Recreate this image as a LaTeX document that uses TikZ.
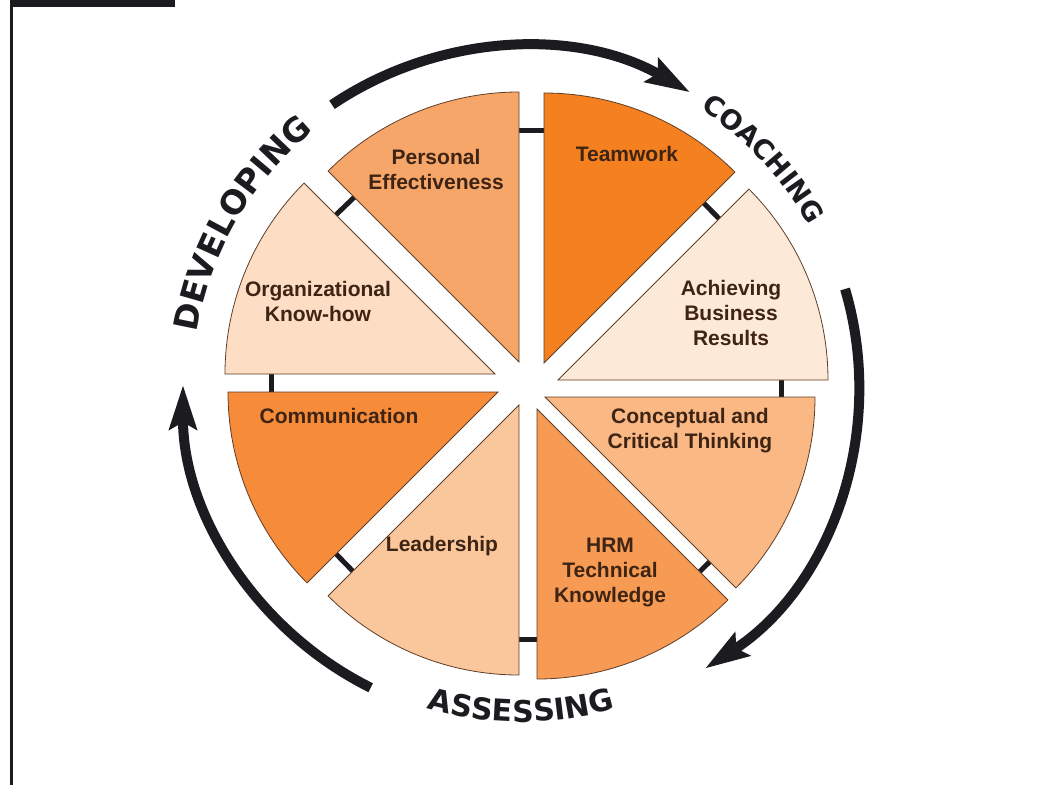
\documentclass[tikz,border=0pt]{standalone}
\usepackage{fontspec}
\usepackage{tikz}
\usetikzlibrary{arrows.meta,calc,decorations.text}

\newfontfamily\labelfont{Liberation Sans}
\newfontfamily\headfont{DejaVu Sans}
\newcommand\headlarge{\headfont\bfseries\fontsize{33}{36}\selectfont}
\newcommand\headmedium{\headfont\bfseries\fontsize{30}{33}\selectfont}
\newcommand\headsmall{\headfont\bfseries\fontsize{27}{30}\selectfont}

\definecolor{c_pe}{RGB}{247,166,106}
\definecolor{c_tw}{RGB}{244,128,32}
\definecolor{c_ab}{RGB}{253,233,216}
\definecolor{c_cc}{RGB}{249,184,132}
\definecolor{c_hr}{RGB}{247,154,83}
\definecolor{c_ld}{RGB}{250,199,157}
\definecolor{c_cm}{RGB}{246,139,58}
\definecolor{c_ok}{RGB}{253,221,195}
\definecolor{c_edge}{RGB}{95,62,40}
\definecolor{c_text}{RGB}{62,36,20}
\definecolor{c_dark}{RGB}{28,28,32}

\begin{document}
\begin{tikzpicture}[x=1pt,y=1pt,
    sector/.style={draw=c_edge, line width=0.8pt},
    lbl/.style={font=\labelfont\bfseries\fontsize{21}{25}\selectfont, text=c_text, align=center},
    linkbar/.style={line width=5pt, c_dark},
    ringarrow/.style={line width=10pt, c_dark, -{Stealth[length=44pt,width=27pt,inset=7pt]}},
    headtext/.style 2 args={decorate, decoration={text along path, text align=center, text color=c_dark, text={|#1|#2}}}]

  \useasboundingbox (-528,-400) rectangle (512,385);

  % page frame
  \fill[c_dark] (-518,385) rectangle (-353,378);
  \draw[c_dark, line width=2.5pt] (-516.5,385) -- (-516.5,-400);

  \coordinate (ring)    at (-7,0);
  \coordinate (pe_apex) at (-9,23);
  \coordinate (tw_apex) at (16,22);
  \coordinate (ab_apex) at (30,5);
  \coordinate (cc_apex) at (17,-12);
  \coordinate (hr_apex) at (9,-24);
  \coordinate (ld_apex) at (-9,-20);
  \coordinate (cm_apex) at (-30,-7);
  \coordinate (ok_apex) at (-33,11);

  % links across the gaps
  \draw[linkbar] ($(pe_apex)+(90:232)$)  -- ($(tw_apex)+(90:233)$);
  \draw[linkbar] ($(tw_apex)+(45:226)$)  -- ($(ab_apex)+(45:228)$);
  \draw[linkbar] ($(ab_apex)+(0:223)$)   -- ($(cc_apex)+(0:236)$);
  \draw[linkbar] ($(cc_apex)+(-45:233)$) -- ($(hr_apex)+(-45:230)$);
  \draw[linkbar] ($(hr_apex)+(-90:230)$) -- ($(ld_apex)+(-90:234)$);
  \draw[linkbar] ($(ld_apex)+(225:235)$) -- ($(cm_apex)+(225:229)$);
  \draw[linkbar] ($(cm_apex)+(180:226)$) -- ($(ok_apex)+(180:223)$);
  \draw[linkbar] ($(ok_apex)+(135:225)$) -- ($(pe_apex)+(135:233)$);

  % the eight wedges
  \filldraw[sector, fill=c_pe] (pe_apex) -- ++(90:270)  arc[start angle=90,  end angle=135, radius=270] -- cycle;
  \filldraw[sector, fill=c_tw] (tw_apex) -- ++(45:270)  arc[start angle=45,  end angle=90,  radius=270] -- cycle;
  \filldraw[sector, fill=c_ab] (ab_apex) -- ++(0:270)   arc[start angle=0,   end angle=45,  radius=270] -- cycle;
  \filldraw[sector, fill=c_cc] (cc_apex) -- ++(-45:270) arc[start angle=-45, end angle=0,   radius=270] -- cycle;
  \filldraw[sector, fill=c_hr] (hr_apex) -- ++(-90:270) arc[start angle=-90, end angle=-45, radius=270] -- cycle;
  \filldraw[sector, fill=c_ld] (ld_apex) -- ++(225:270) arc[start angle=225, end angle=270, radius=270] -- cycle;
  \filldraw[sector, fill=c_cm] (cm_apex) -- ++(180:270) arc[start angle=180, end angle=225, radius=270] -- cycle;
  \filldraw[sector, fill=c_ok] (ok_apex) -- ++(135:270) arc[start angle=135, end angle=180, radius=270] -- cycle;

  \node[lbl] (pe) at (-92,216)  {Personal\\Effectiveness};
  \node[lbl] (tw) at (99,231)   {Teamwork};
  \node[lbl] (ab) at (203,72)   {Achieving\\Business\\Results};
  \node[lbl] (cc) at (162,-46)  {Conceptual and\\Critical Thinking};
  \node[lbl] (hr) at (82,-187)  {HRM\\Technical\\Knowledge};
  \node[lbl] (ld) at (-86,-161) {Leadership};
  \node[lbl] (cm) at (-189,-31) {Communication};
  \node[lbl] (ok) at (-210,84)  {Organizational\\Know-how};

  % cycle arrows
  \draw[ringarrow] ([shift={(124:338)}]ring)   arc[start angle=124,   end angle=60,  radius=338];
  \draw[ringarrow] ([shift={(16.5:338)}]ring)  arc[start angle=16.5,  end angle=-57, radius=338];
  \draw[ringarrow] ([shift={(243.6:338)}]ring) arc[start angle=243.6, end angle=180, radius=338];

  \path[headtext={\headlarge}{DEVELOPING}] ([shift={(190:328)}]ring) arc[start angle=190, end angle=110, radius=328];
  \path[headtext={\headsmall}{COACHING}]   ([shift={(83:329)}]ring)  arc[start angle=83,  end angle=3,   radius=329];
  \path[headtext={\headmedium}{ASSESSING}] ([shift={(-130:337)}]ring) arc[start angle=-130, end angle=-50, radius=337];
\end{tikzpicture}
\end{document}
